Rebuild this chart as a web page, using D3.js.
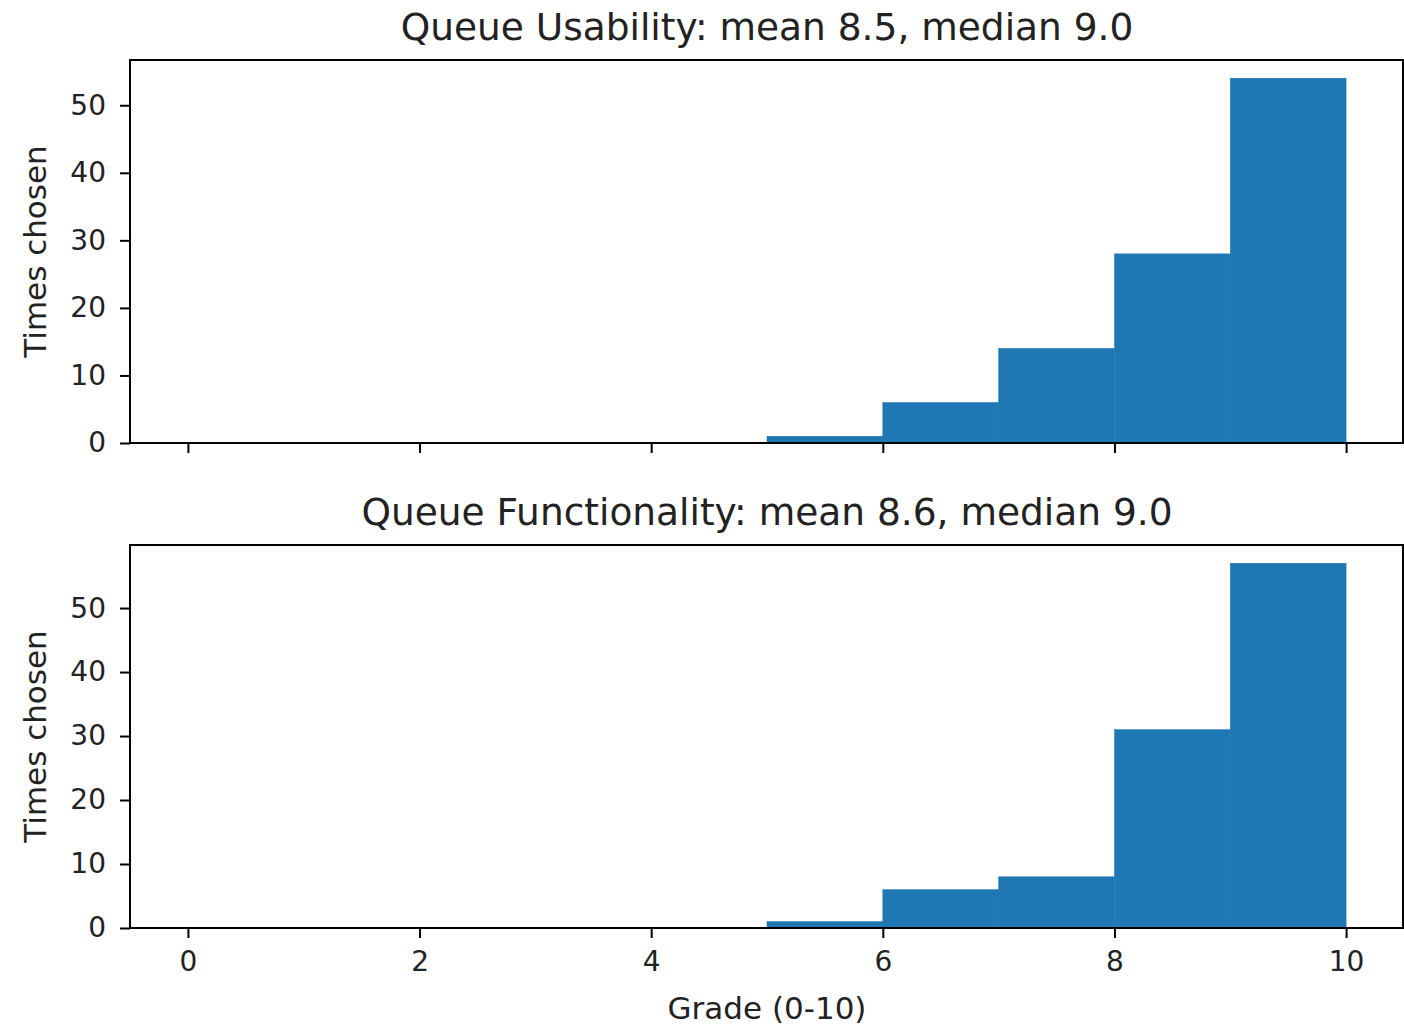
<!DOCTYPE html>
<meta charset="utf-8">
<style>
body { margin: 0; background: #fff; }
.axis text { font-family: "DejaVu Sans", sans-serif; font-size: 28px; fill: #222; }
.axis path, .axis line { stroke: #000; stroke-width: 2; }
.title { font-family: "DejaVu Sans", sans-serif; font-size: 37.5px; fill: #222; }
.label { font-family: "DejaVu Sans", sans-serif; font-size: 31px; fill: #222; }
</style>
<div id="my_dataviz"></div>
<script src="https://d3js.org/d3.v7.min.js"></script>
<script>

// histogram bins (left edges, width 1) and counts
var binStarts = [5, 6, 7, 8, 9];
var usabilityCounts = [1, 6, 14, 28, 54];
var functionalityCounts = [1, 6, 8, 31, 57];
var titles = ["Queue Usability: mean 8.5, median 9.0", "Queue Functionality: mean 8.6, median 9.0"];
var xTicks = [0, 2, 4, 6, 8, 10];
var yTicks = [0, 10, 20, 30, 40, 50];

var W = 1404, H = 1025;
var left = 130, right = 1404;

var svg = d3.select("#my_dataviz")
  .append("svg")
    .attr("width", W)
    .attr("height", H);

var x = d3.scaleLinear()
  .domain([-0.5, 10.5])
  .range([left, right]);

var panels = [
  {title: titles[0], counts: usabilityCounts, top: 60, bottom: 443, titleY: 40, labels: false},
  {title: titles[1], counts: functionalityCounts, top: 545, bottom: 928, titleY: 525, labels: true}
];

panels.forEach(function(p) {
  var maxC = d3.max(p.counts);
  var y = d3.scaleLinear()
    .domain([0, maxC * 1.05])
    .range([p.bottom, p.top]);

  var g = svg.append("g");

  // bars
  g.selectAll("rect")
    .data(binStarts)
    .enter()
    .append("rect")
      .attr("x", function(d) { return x(d); })
      .attr("width", function(d) { return x(d + 1) - x(d); })
      .attr("y", function(d, i) { return y(p.counts[i]); })
      .attr("height", function(d, i) { return p.bottom - y(p.counts[i]); })
      .attr("fill", "#1f77b4")
      .attr("stroke", "#1f77b4")
      .attr("stroke-width", 0.5);

  // frame
  g.append("rect")
    .attr("x", left)
    .attr("y", p.top)
    .attr("width", right - left - 1)
    .attr("height", p.bottom - p.top)
    .attr("fill", "none")
    .attr("stroke", "#000")
    .attr("stroke-width", 2);

  // x axis
  var xa = g.append("g")
    .attr("class", "axis")
    .attr("transform", "translate(0," + p.bottom + ")")
    .call(d3.axisBottom(x).tickValues(xTicks).tickSize(10).tickPadding(13)
      .tickFormat(p.labels ? d3.format("d") : function() { return ""; }));
  xa.select(".domain").remove();

  // y axis
  var ya = g.append("g")
    .attr("class", "axis")
    .attr("transform", "translate(" + left + ",0)")
    .call(d3.axisLeft(y).tickValues(yTicks).tickSize(10).tickPadding(14));
  ya.select(".domain").remove();

  // title
  svg.append("text")
    .attr("class", "title")
    .attr("x", (left + right) / 2)
    .attr("y", p.titleY)
    .attr("text-anchor", "middle")
    .text(p.title);

  // y label
  svg.append("text")
    .attr("class", "label")
    .attr("transform", "translate(46," + ((p.top + p.bottom) / 2) + ") rotate(-90)")
    .attr("text-anchor", "middle")
    .text("Times chosen");
});

svg.append("text")
  .attr("class", "label")
  .attr("x", (left + right) / 2)
  .attr("y", 1019)
  .attr("text-anchor", "middle")
  .text("Grade (0-10)");

</script>
